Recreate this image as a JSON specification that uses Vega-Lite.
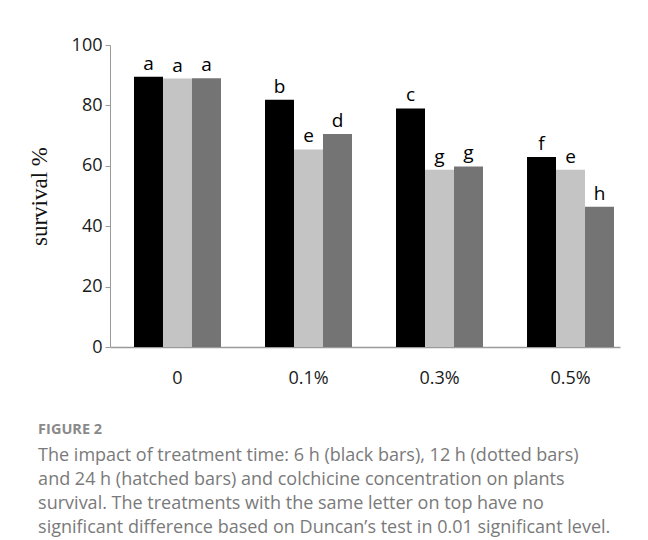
{
  "$schema": "https://vega.github.io/schema/vega-lite/v6.json",
  "width": 510,
  "height": 302,
  "padding": {"top": 36, "left": 28, "right": 5, "bottom": 5},
  "background": "white",
  "config": {"view": {"stroke": null}},
  "title": {
    "text": "FIGURE 2",
    "subtitle": [
      "The impact of treatment time: 6 h (black bars), 12 h (dotted bars)",
      "and 24 h (hatched bars) and colchicine concentration on plants",
      "survival. The treatments with the same letter on top have no",
      "significant difference based on Duncan’s test in 0.01 significant level."
    ],
    "orient": "bottom",
    "anchor": "start",
    "frame": "bounds",
    "font": "Open Sans",
    "fontSize": 14.5,
    "fontWeight": "bold",
    "color": "#8a8a8a",
    "subtitleFont": "Open Sans",
    "subtitleFontSize": 18,
    "subtitleColor": "#7a7a7a",
    "subtitleLineHeight": 24,
    "subtitlePadding": 9,
    "offset": 36,
    "dx": 10
  },
  "data": {
    "values": [
      {"conc": "0", "time": "6 h", "survival": 89.5, "letter": "a"},
      {"conc": "0", "time": "12 h", "survival": 88.9, "letter": "a"},
      {"conc": "0", "time": "24 h", "survival": 89.0, "letter": "a"},
      {"conc": "0.1%", "time": "6 h", "survival": 81.9, "letter": "b"},
      {"conc": "0.1%", "time": "12 h", "survival": 65.4, "letter": "e"},
      {"conc": "0.1%", "time": "24 h", "survival": 70.5, "letter": "d"},
      {"conc": "0.3%", "time": "6 h", "survival": 79.0, "letter": "c"},
      {"conc": "0.3%", "time": "12 h", "survival": 58.7, "letter": "g"},
      {"conc": "0.3%", "time": "24 h", "survival": 59.8, "letter": "g"},
      {"conc": "0.5%", "time": "6 h", "survival": 62.9, "letter": "f"},
      {"conc": "0.5%", "time": "12 h", "survival": 58.7, "letter": "e"},
      {"conc": "0.5%", "time": "24 h", "survival": 46.4, "letter": "h"}
    ]
  },
  "encoding": {
    "x": {
      "field": "conc",
      "type": "nominal",
      "sort": ["0", "0.1%", "0.3%", "0.5%"],
      "scale": {"paddingInner": 0.336, "paddingOuter": 0.1145, "align": 0.8},
      "axis": {
        "title": null,
        "labelAngle": 0,
        "labelFont": "Open Sans",
        "labelFontSize": 18,
        "labelColor": "#1a1a1a",
        "labelPadding": 22,
        "ticks": false,
        "domainColor": "#9a9a9a",
        "domainWidth": 1.5
      }
    },
    "xOffset": {
      "field": "time",
      "type": "nominal",
      "sort": ["6 h", "12 h", "24 h"],
      "scale": {"paddingInner": 0, "paddingOuter": 0}
    },
    "y": {
      "field": "survival",
      "type": "quantitative",
      "scale": {"domain": [0, 100]},
      "axis": {
        "title": "survival %",
        "titleFont": "Liberation Serif",
        "titleFontSize": 23,
        "titleFontWeight": "normal",
        "titleColor": "#111",
        "titlePadding": 20,
        "values": [0, 20, 40, 60, 80, 100],
        "grid": false,
        "labelFont": "Open Sans",
        "labelFontSize": 18,
        "labelColor": "#1a1a1a",
        "labelPadding": 3,
        "tickSize": 5,
        "tickColor": "#9a9a9a",
        "domainColor": "#9a9a9a"
      }
    }
  },
  "layer": [
    {
      "mark": {"type": "bar", "strokeWidth": 0},
      "encoding": {
        "fill": {
          "field": "time",
          "type": "nominal",
          "sort": ["6 h", "12 h", "24 h"],
          "scale": {"domain": ["6 h", "12 h", "24 h"], "range": ["#000000", "#c4c4c4", "#747474"]},
          "legend": null
        }
      }
    },
    {
      "mark": {"type": "text", "baseline": "bottom", "dy": -3, "font": "Open Sans", "fontSize": 19, "color": "#000"},
      "encoding": {"text": {"field": "letter"}}
    }
  ]
}
